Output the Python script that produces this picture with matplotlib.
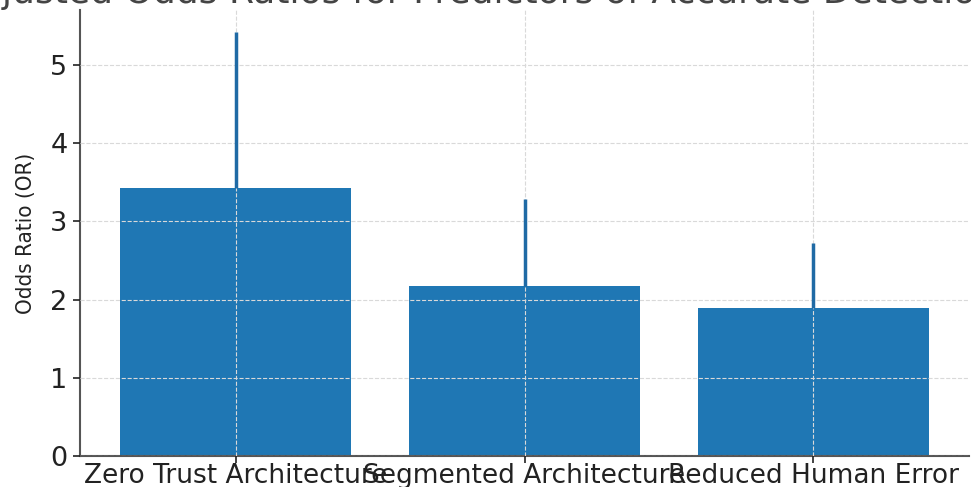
import matplotlib
matplotlib.use("Agg")
import matplotlib.pyplot as plt

# Data
predictors = ["Zero Trust Architecture", "Segmented Architecture", "Reduced Human Error"]
odds_ratios = [3.42, 2.17, 1.89]
ci_upper = [5.42, 3.28, 2.72]

bar_color = "#1f77b4"

fig = plt.figure(figsize=(9.71, 4.87), dpi=100)
ax = fig.add_axes([80 / 971, 31 / 487, 889 / 971, 446 / 487])

ax.bar(predictors, odds_ratios, width=0.8, color=bar_color, zorder=2)
upper_err = [u - v for u, v in zip(ci_upper, odds_ratios)]
ax.errorbar(predictors, odds_ratios, yerr=[[0] * len(odds_ratios), upper_err],
            fmt="none", ecolor="#1f6aa5", elinewidth=2.5, capsize=0, zorder=4)

ax.set_xlim(-0.54, 2.54)
ax.set_ylim(0, 5.7)
ax.set_yticks([0, 1, 2, 3, 4, 5])
ax.grid(True, color="#d9d9d9", linestyle="--", linewidth=0.8, zorder=3)
ax.set_axisbelow(False)

for side in ["top", "right"]:
    ax.spines[side].set_visible(False)
for side in ["left", "bottom"]:
    ax.spines[side].set_color("#555555")
    ax.spines[side].set_linewidth(1.5)

ax.tick_params(axis="both", labelsize=19.5, colors="#222222", length=5, width=1.2, pad=4)
ax.tick_params(axis="x", labelsize=19, pad=0)
ax.set_ylabel("Odds Ratio (OR)", fontsize=16, fontstretch="condensed", color="#222222",
              labelpad=10)

fig.text(-45 / 971, 1 - 3 / 487, "Adjusted Odds Ratios for Predictors of Accurate Detection",
         fontsize=26, ha="left", va="baseline", color="#444444")

fig.savefig("out.png", dpi=100)
